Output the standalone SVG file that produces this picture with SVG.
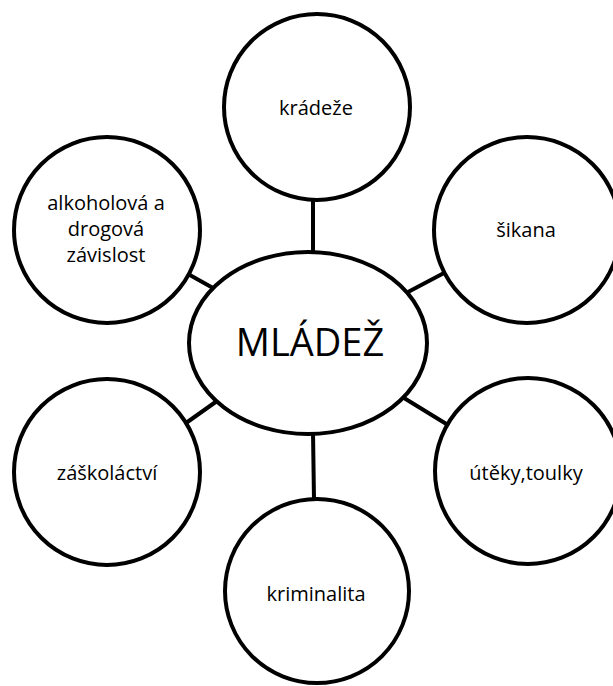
<svg xmlns="http://www.w3.org/2000/svg" width="613" height="686" viewBox="0 0 613 686">
<style>
.n{fill:#fff;stroke:#000;stroke-width:4}
.c{stroke:#000;stroke-width:4;fill:none}
text{font-family:"Open Sans","Liberation Sans",sans-serif;font-size:20px;fill:#000;text-anchor:middle}
.big{font-size:38px}
</style>
<rect width="613" height="686" fill="#fff"/>
<g id="connectors">
<line class="c" x1="313" y1="200" x2="313" y2="252"/>
<line class="c" x1="188" y1="274" x2="213" y2="288"/>
<line class="c" x1="408" y1="292" x2="444" y2="273"/>
<line class="c" x1="186" y1="423" x2="217" y2="401"/>
<line class="c" x1="404" y1="398" x2="448" y2="425"/>
<line class="c" x1="313" y1="432" x2="314" y2="500"/>
</g>
<g id="center">
<ellipse class="n" cx="308" cy="343" rx="119" ry="91"/>
<text class="big" x="310" y="356">MLÁDEŽ</text>
</g>
<g id="kradeze">
<circle class="n" cx="317" cy="107" r="93"/>
<text x="316" y="115">krádeže</text>
</g>
<g id="sikana">
<circle class="n" cx="527" cy="230" r="93"/>
<text x="526" y="237">šikana</text>
</g>
<g id="alkohol">
<circle class="n" cx="107" cy="230" r="93"/>
<text x="106" y="210">alkoholová a</text>
<text x="106" y="236">drogová</text>
<text x="106" y="262">závislost</text>
</g>
<g id="zaskolactvi">
<circle class="n" cx="107" cy="472" r="93"/>
<text x="107" y="480">záškoláctví</text>
</g>
<g id="uteky">
<circle class="n" cx="528" cy="471" r="93"/>
<text x="526" y="480">útěky,toulky</text>
</g>
<g id="kriminalita">
<circle class="n" cx="317" cy="591" r="92"/>
<text x="316" y="601">kriminalita</text>
</g>
</svg>
